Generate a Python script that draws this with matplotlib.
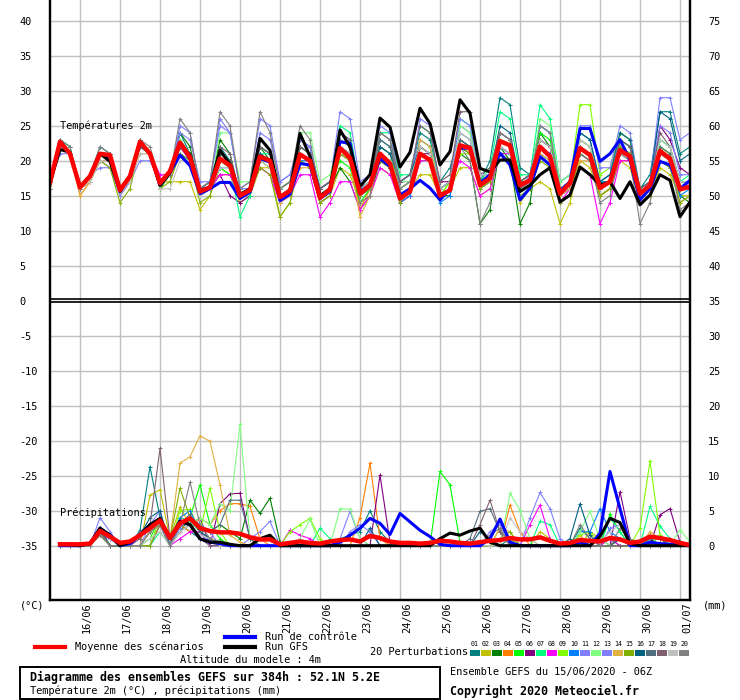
import matplotlib
matplotlib.use('Agg')
import matplotlib.pyplot as plt
import numpy as np
from matplotlib.lines import Line2D
from matplotlib.patches import Rectangle

plt.rcParams['font.family'] = ['DejaVu Sans Mono', 'DejaVu Sans']

# 15/06 06Z -> 01/07 06Z, every 6h
hours = list(range(0, 385, 6))
dates = ['16/06', '17/06', '18/06', '19/06', '20/06', '21/06', '22/06', '23/06',
         '24/06', '25/06', '26/06', '27/06', '28/06', '29/06', '30/06', '01/07']
nan = float('nan')

# --- temperature 2m (C) ---
t_mean = [16.9, 22.7, 21.0, 16.2, 17.8, 21.0, 20.8, 15.8, 17.8, 22.7, 21.0, 16.8, 18.5,
          22.6, 20.5, 15.6, 16.2, 20.3, 19.3, 15.0, 15.8, 20.6, 20.0, 14.8, 15.7,
          20.9, 20.0, 14.7, 15.9, 21.8, 20.4, 15.3, 16.5, 21.0, 19.6, 14.6, 15.6,
          21.0, 20.1, 15.0, 15.8, 22.2, 21.8, 16.5, 17.5, 22.8, 22.2, 16.5, 17.2,
          22.0, 20.6, 15.3, 16.8, 21.8, 20.8, 16.1, 17.0, 21.5, 20.6, 15.3, 16.5,
          21.4, 20.3, 15.9, 16.3]
t_ctrl = [16.9, 22.5, 21.0, 16.2, 17.8, 21.0, 20.5, 15.8, 17.8, 22.5, 21.0, 16.5, 18.3,
          20.8, 19.3, 15.3, 16.0, 16.9, 16.9, 14.6, 15.5, 20.3, 19.8, 14.3, 15.2,
          19.6, 19.4, 14.6, 15.6, 22.7, 22.5, 15.6, 16.5, 20.3, 19.2, 15.1, 16.0,
          17.2, 16.1, 14.4, 16.0, 21.8, 21.8, 16.8, 18.0, 21.1, 19.4, 14.4, 16.1,
          20.6, 19.4, 15.6, 17.0, 24.6, 24.6, 19.9, 21.0, 23.0, 20.1, 14.4, 16.0,
          19.9, 19.4, 16.0, 17.2]
t_gfs = [16.9, 21.6, 21.2, 16.2, 17.8, 21.0, 19.9, 15.6, 17.8, 22.7, 21.0, 16.5, 18.3,
         22.5, 20.8, 15.8, 16.2, 21.5, 19.5, 15.2, 16.0, 23.2, 21.5, 14.8, 15.7,
         23.9, 20.6, 15.0, 16.0, 24.4, 22.0, 16.3, 18.0, 26.1, 24.8, 19.1, 21.2,
         27.5, 25.3, 19.4, 21.3, 28.7, 26.8, 18.9, 18.4, 20.1, 20.1, 15.6, 16.5,
         18.0, 19.0, 14.1, 15.1, 19.1, 18.0, 16.5, 17.0, 14.6, 17.0, 13.7, 15.1,
         18.0, 17.2, 12.0, 14.1]

t_p01 = [17, 23, 22, 16, 18, 22, 21, 16, 18, 23, 21, 17, 18, 24, 21, 16, 17, 22, 20, 15, 16,
         22, 21, 16, 17, 23, 22, 16, 17, 24, 23, 16, 17, 23, 22, 17, 18, 24, 23, 17, 19,
         24, 23, 17, 20, 29, 28, 19, 18, 25, 24, 17, 18, 23, 22, 17, 18, 24, 23, 16, 18,
         27, 27, 21, 22]
t_p02 = [16, 22, 21, 16, 17, 20, 20, 15, 17, 22, 21, 17, 17, 17, 17, 13, 15, 19, 18, 14, 15,
         19, 19, 12, 14, 20, 19, 14, 15, 19, 18, 14, 15, 19, 18, 15, 16, 18, 18, 15, 16,
         19, 19, 15, 16, 21, 20, 14, 16, 17, 16, 11, 14, 20, 19, 15, 16, 20, 19, 14, 15,
         19, 18, 15, 15]
t_p03 = [16, 23, 21, 16, 18, 21, 21, 16, 18, 23, 21, 16, 18, 24, 22, 16, 16, 23, 21, 15, 16,
         22, 20, 14, 16, 22, 21, 15, 16, 19, 17, 13, 15, 20, 19, 14, 15, 22, 21, 15, 15,
         21, 20, 11, 13, 22, 20, 11, 14, 24, 22, 16, 17, 21, 20, 15, 16, 23, 22, 16, 17,
         22, 21, 15, 14]
t_p04 = [17, 22, 21, 15, 17, 21, 20, 16, 17, 22, 21, 17, 18, 22, 21, 16, 17, 18, 18, 15, 16,
         20, 20, 15, 16, 21, 20, 15, 16, 21, 20, 13, 16, 20, 19, 14, 15, 22, 21, 15, 16,
         23, 22, 18, 18, 24, 23, 17, 18, 23, 22, 16, 17, 23, 22, 15, 16, 20, 20, 15, 16,
         22, 21, 16, 17]
t_p05 = [16, 22, 21, 16, 18, 21, 21, 16, 17, 23, 21, 17, 18, 21, 20, 16, 16, 19, 18, 15, 16,
         20, 19, 15, 16, 21, 20, 16, 17, 20, 19, 14, 16, 22, 21, 16, 17, 20, 20, 15, 17,
         22, 21, 17, 18, 21, 21, 17, 18, 24, 23, 16, 17, 22, 21, 17, 17, 23, 22, 15, 16,
         23, 22, 17, 17]
t_p06 = [17, 23, 21, 16, 18, 21, 21, 16, 18, 23, 21, 17, 18, 22, 20, 15, 16, 18, 15, 14, 15,
         21, 20, 15, 16, 20, 19, 14, 15, 22, 21, 15, 16, 20, 19, 15, 16, 21, 21, 17, 17,
         22, 21, 16, 17, 22, 21, 16, 17, 22, 21, 15, 16, 21, 20, 16, 17, 22, 21, 15, 16,
         25, 23, 19, 18]
t_p07 = [16, 23, 22, 16, 18, 21, 21, 16, 18, 23, 21, 17, 18, 23, 21, 15, 16, 20, 19, 12, 15,
         21, 21, 16, 17, 22, 21, 15, 16, 25, 24, 16, 17, 24, 24, 18, 18, 25, 24, 16, 17,
         26, 25, 17, 19, 27, 26, 18, 18, 28, 26, 17, 18, 24, 23, 16, 17, 23, 22, 15, 16,
         23, 22, 17, 18]
t_p08 = [16, 22, 21, 16, 17, 20, 20, 16, 17, 22, 21, 18, 18, 21, 20, 15, 16, 18, 18, 15, 16,
         19, 18, 14, 15, 18, 18, 12, 14, 17, 17, 13, 15, 19, 18, 14, 15, 20, 20, 16, 17,
         20, 19, 15, 16, 21, 21, 16, 17, 22, 21, 14, 16, 19, 18, 11, 14, 20, 20, 15, 16,
         21, 20, 16, 17]
t_p09 = [17, 23, 21, 16, 18, 21, 21, 16, 18, 23, 21, 17, 18, 22, 21, 16, 16, 21, 20, 15, 16,
         20, 20, 16, 17, 22, 21, 15, 16, 23, 22, 16, 17, 22, 21, 16, 17, 23, 22, 15, 17,
         21, 21, 17, 18, 24, 23, 17, 18, 21, 20, 15, 17, 28, 28, 18, 19, 24, 23, 16, 17,
         22, 21, 16, 17]
t_p10 = [17, 22, 21, 16, 18, 21, 20, 16, 17, 22, 21, 17, 18, 21, 20, 15, 16, 19, 19, 15, 16,
         21, 20, 15, 15, 20, 20, 14, 15, 21, 20, 15, 16, 21, 20, 14, 15, 21, 20, 14, 15,
         23, 22, 16, 17, 22, 21, 16, 17, 22, 21, 15, 16, 22, 21, 17, 17, 22, 21, 15, 16,
         20, 19, 15, 16]
t_p11 = [17, 22, 21, 16, 18, 20, 19, 16, 17, 22, 21, 17, 18, 25, 24, 16, 17, 26, 24, 16, 17,
         26, 25, 17, 18, 23, 22, 16, 17, 27, 26, 17, 18, 25, 24, 17, 17, 26, 25, 16, 17,
         25, 24, 17, 18, 24, 23, 16, 18, 25, 24, 17, 18, 25, 25, 19, 19, 25, 24, 16, 17,
         29, 29, 23, 24]
t_p12 = [17, 23, 21, 16, 18, 21, 21, 16, 17, 23, 21, 17, 18, 23, 21, 16, 16, 24, 24, 17, 17,
         22, 21, 16, 17, 24, 24, 17, 18, 23, 22, 16, 17, 24, 23, 17, 17, 23, 22, 16, 17,
         25, 24, 18, 18, 23, 22, 17, 17, 26, 25, 17, 18, 23, 22, 17, 18, 24, 23, 16, 17,
         22, 21, 16, 17]
t_p13 = [17, 21, 21, 16, 18, 19, 19, 15, 17, 20, 20, 17, 18, 24, 23, 17, 17, 25, 24, 16, 16,
         24, 23, 17, 18, 23, 22, 16, 17, 22, 21, 16, 17, 22, 21, 17, 18, 23, 22, 16, 17,
         26, 25, 18, 18, 22, 21, 17, 17, 21, 20, 15, 16, 24, 23, 17, 18, 23, 22, 16, 17,
         25, 24, 18, 18]
t_p14 = [16, 22, 21, 15, 17, 20, 20, 16, 17, 21, 21, 17, 17, 22, 21, 15, 16, 20, 19, 15, 16,
         20, 19, 14, 15, 19, 19, 14, 15, 21, 20, 12, 15, 21, 20, 15, 16, 23, 22, 16, 17,
         23, 22, 16, 17, 23, 22, 16, 17, 21, 20, 15, 16, 20, 20, 15, 16, 22, 21, 14, 15,
         21, 20, 14, 15]
t_p15 = [16, 22, 21, 16, 17, 20, 19, 14, 16, 22, 21, 16, 17, 21, 20, 14, 15, 20, 19, 15, 16,
         19, 18, 12, 14, 20, 19, 14, 15, 21, 20, 15, 16, 20, 19, 14, 16, 21, 20, 15, 16,
         22, 21, 16, 17, 21, 20, 15, 16, 20, 19, 14, 15, 21, 20, 15, 16, 22, 21, 14, 15,
         20, 19, 14, 15]
t_p16 = [17, 23, 21, 16, 18, 21, 21, 16, 18, 23, 21, 17, 18, 22, 21, 16, 17, 21, 20, 15, 16,
         21, 20, 15, 16, 22, 21, 16, 17, 22, 21, 16, 17, 22, 21, 17, 18, 22, 21, 16, 17,
         23, 22, 17, 18, 25, 24, 17, 18, 23, 22, 16, 17, 24, 23, 17, 18, 24, 23, 16, 17,
         27, 26, 20, 21]
t_p17 = [17, 22, 21, 16, 18, 21, 21, 16, 18, 22, 21, 17, 18, 22, 21, 16, 16, 21, 20, 15, 16,
         22, 21, 15, 16, 21, 20, 15, 16, 23, 22, 16, 17, 23, 22, 16, 17, 22, 21, 15, 16,
         23, 22, 17, 18, 22, 21, 16, 17, 23, 22, 16, 17, 22, 21, 16, 17, 23, 22, 15, 16,
         22, 21, 16, 16]
t_p18 = [17, 23, 21, 16, 18, 21, 21, 16, 18, 23, 21, 17, 18, 22, 21, 16, 16, 22, 21, 15, 16,
         22, 21, 16, 17, 22, 21, 16, 17, 24, 23, 16, 17, 24, 23, 17, 18, 25, 24, 17, 18,
         27, 27, 18, 19, 24, 23, 17, 18, 23, 22, 16, 17, 22, 21, 16, 17, 23, 22, 16, 17,
         24, 22, 17, 17]
t_p19 = [16, 22, 21, 16, 17, 20, 20, 16, 17, 21, 21, 16, 16, 20, 20, 15, 16, 19, 19, 15, 16,
         20, 19, 15, 16, 21, 20, 15, 16, 22, 21, 16, 17, 21, 20, 16, 17, 22, 21, 16, 17,
         24, 23, 18, 18, 22, 21, 16, 17, 23, 22, 16, 17, 23, 22, 16, 17, 21, 20, 15, 16,
         23, 22, 17, 17]
t_p20 = [16, 23, 22, 16, 18, 22, 21, 16, 18, 23, 22, 17, 18, 26, 24, 16, 17, 27, 25, 16, 17,
         27, 24, 16, 17, 25, 23, 15, 16, 23, 22, 14, 15, 24, 23, 16, 17, 21, 20, 15, 16,
         22, 20, 11, 14, 24, 23, 16, 17, 25, 24, 16, 17, 21, 20, 14, 15, 21, 20, 11, 14,
         21, 20, 13, 14]

# --- precipitation (mm per 6h) ---
p_mean = [nan, 0.2, 0.2, 0.2, 0.3, 2.1, 1.3, 0.4, 0.6, 1.5, 2.5, 3.6, 1.1,
          3.2, 3.9, 2.5, 2.1, 1.9, 1.9, 1.7, 1.2, 0.9, 0.9, 0.2, 0.4,
          0.6, 0.4, 0.3, 0.6, 0.8, 0.9, 0.6, 1.4, 1.1, 0.6, 0.4, 0.4,
          0.3, 0.4, 0.7, 0.6, 0.4, 0.3, 0.5, 0.7, 0.8, 1.1, 0.9, 0.9,
          1.2, 0.7, 0.3, 0.4, 0.8, 0.7, 0.6, 1.1, 0.9, 0.4, 0.6, 1.3,
          1.1, 0.8, 0.4, 0.1]
p_ctrl = [nan, 0, 0, 0, 0.3, 2.5, 1.5, 0, 0.3, 1.5, 3, 3.5, 1, 3.5, 3, 1, 0.5,
          0.3, 0, 0, 0, 0, 0, 0, 0, 0, 0, 0, 0, 0.5, 1.5, 2.5, 3.9,
          3.2, 1.6, 4.6, 3.4, 2.2, 1.3, 0.2, 0, 0, 0, 0, 1, 3.8, 0.5, 0, 0,
          0, 0, 0, 0, 0.5, 0, 1.8, 10.6, 5.3, 0, 0, 0.5, 0.3, 0.2, 0.1, 0]
p_gfs = [nan, 0.2, 0.1, 0, 0.3, 2.5, 1.5, 0, 0.5, 1.5, 3, 3.9, 1, 3.5, 3, 1, 0.5,
         0.5, 0.2, 0, 0, 1, 1.5, 0, 0, 0, 0, 0, 0, 0, 0, 0, 0,
         0, 0, 0, 0, 0, 0, 1, 1.8, 1.5, 2.1, 2.5, 0.5, 0, 0, 0, 0,
         0, 0, 0, 0, 0, 0, 1.3, 3.9, 3.3, 0.3, 0, 0, 0, 0, 0, 0]

p_p01 = [nan, 0, 0, 0, 0, 2, 1, 0, 0, 2.2, 11.3, 4, 1, 3, 2, 1, 0.5, 0.3, 0, 0, 0,
         0, 0, 0, 0, 0, 0, 0, 0, 1, 1.5, 2, 5, 2, 0.5, 0, 0, 0, 0, 0, 0, 0, 0, 0, 0,
         0, 1, 0, 0, 0, 0, 0, 0, 2.5, 1, 0, 0, 1, 0, 0, 1, 0, 0, 0, 0]
p_p02 = [nan, 0, 0, 0, 0, 2, 1.5, 0, 0, 0, 7.2, 8, 1, 5.5, 3, 1, 0.5, 0, 0, 0, 0,
         0, 0, 0, 0.5, 0, 0, 0, 0, 0, 0, 0, 0, 0, 0, 0, 0, 0, 0, 0, 0, 0, 0, 0, 0,
         2.5, 1, 0, 0, 2, 1, 0, 0, 0, 2, 1, 0, 0, 0, 0, 0.5, 0, 0, 0, 0]
p_p03 = [nan, 0, 0, 0, 0, 1.5, 0, 0, 0, 0, 2, 3, 0, 2, 4, 3, 2, 3, 2, 1, 6.5,
         4.6, 6.8, 0.5, 0, 0, 0, 0, 0, 0, 0, 0, 0, 0, 0, 0, 0, 0, 0, 0, 0, 0, 0, 0, 0,
         0, 0, 0, 0, 0, 0, 0, 0, 0, 0, 0, 1, 0, 0, 0, 1, 0, 0, 0, 0]
p_p04 = [nan, 0, 0, 0, 0, 2, 0, 0, 0, 0, 2, 3, 0, 3, 2, 4, 3, 5, 6, 6, 5.6,
         1, 0, 0, 0, 0, 0, 0, 0, 0, 0, 4, 11.8, 1, 0, 0, 0, 0, 0, 0, 0, 0, 0, 0, 0,
         0, 5.8, 2, 0, 0, 0, 0, 0, 1.5, 0, 0, 0, 1, 0, 0, 0, 0, 0, 0, 0]
p_p05 = [nan, 0, 0, 0, 0, 1.5, 0, 0, 0, 0, 1, 4, 0, 3, 4, 8.7, 3, 1, 0, 0, 0,
         0, 0, 0, 0, 0, 0, 0, 0, 0, 0, 0, 0, 0, 0, 0, 0, 0, 0, 10.6, 8.7, 0.5, 0, 0, 0,
         0, 0, 0, 0, 0, 0, 0, 0, 0, 0, 0, 4.5, 2, 0, 0, 0, 1.5, 0, 0, 0]
p_p06 = [nan, 0, 0, 0, 0, 2, 0, 0, 0, 0, 0, 3, 0, 2, 3, 4, 0, 6, 7.4, 7.5, 1,
         0, 0, 0, 0, 0, 0, 0, 0, 0, 0, 0, 0, 10.1, 0.5, 0, 0, 0, 0, 0, 0, 0, 0, 0, 0,
         0, 0, 0, 0, 0, 0, 0, 0, 0, 0, 0, 0, 7.7, 1, 0, 0, 4.4, 5.3, 0.5, 0]
p_p07 = [nan, 0, 0, 0, 0, 2.5, 0, 0, 0, 0, 0, 2, 0, 4, 3.5, 2, 0, 0, 0, 0, 0,
         0, 0, 0, 0, 0, 0, 2.5, 1, 0, 0, 0, 0, 0, 0, 0, 0, 0, 0, 0, 0, 0, 0, 0, 0,
         0, 0, 0, 0, 3.5, 3, 0, 0, 0, 0, 0, 4, 2, 0, 0, 5.6, 2.8, 1, 0, 0]
p_p08 = [nan, 0, 0, 0, 0, 1.5, 1, 0, 0, 0, 0, 3, 0, 1, 2, 2, 0, 0, 0, 0, 0,
         0, 0, 0, 2.2, 1.5, 1, 0, 0, 0, 0, 0, 0, 0, 0, 0, 0, 0, 0, 0, 0, 0, 0, 0, 0,
         0, 0, 0, 3, 5.8, 1, 0, 0, 0, 0, 0, 1, 0, 0, 0, 0, 0, 0, 0, 0]
p_p09 = [nan, 0, 0, 0, 0, 2, 0, 0, 0, 0, 0, 4, 0, 5, 5.2, 2, 8.2, 2, 0, 0, 0,
         0, 0, 0, 2, 3, 3.9, 1, 0, 0, 0, 0, 0, 0, 0, 0, 0, 0, 0, 0, 0, 0, 0, 0, 0,
         0, 0, 0, 0, 0, 0, 0, 0, 1.5, 2, 0, 0, 0, 0, 2.5, 12.1, 1.5, 0, 0, 0]
p_p10 = [nan, 0, 0, 0, 0, 2, 1, 0, 0, 2, 3, 4, 0, 4, 5, 2, 1, 0, 0, 0, 0,
         0, 0, 0, 0, 0, 0, 0, 0, 0, 0, 0, 0, 0, 0, 0, 0, 0, 0, 0, 0, 0, 0, 0, 1,
         0, 0, 0, 0, 0, 0, 0, 0, 2, 2, 5.3, 2, 1, 0, 0, 0, 0, 0, 0, 0]
p_p11 = [nan, 0, 0, 0, 0, 4, 2, 0, 0, 0, 3, 5, 0, 3, 3, 1, 1, 0, 0, 0, 1,
         2, 3.5, 0, 0, 0, 0, 0, 0, 1, 4.9, 1, 0, 0, 0, 0, 0, 0, 0, 0, 0, 0, 0, 0, 0,
         0, 0, 0, 4, 7.6, 5.3, 1, 0, 0, 0, 1, 0, 0, 0, 0, 0, 0, 0, 0, 0]
p_p12 = [nan, 0, 0, 0, 0, 2, 0, 0, 0, 0, 1, 2, 0, 2, 3, 4, 3, 6, 5, 17.4, 1,
         0, 0, 0, 0, 1, 3.8, 0, 0, 5.3, 5.2, 1, 0, 0, 0, 0, 0, 0, 0, 0, 0, 0, 0, 0, 0,
         0, 7.5, 5.1, 1, 0, 0, 0, 0, 2, 4.9, 1, 0, 0, 0, 0, 0, 0, 0, 2.3, 0.5]
p_p13 = [nan, 0, 0, 0, 0, 2.5, 1.5, 0, 0, 0, 2, 3, 0, 2.5, 4, 3, 2, 0, 0, 0, 0,
         0, 0, 0, 0, 0, 0, 0, 0, 0, 2, 3, 2, 0, 0, 0, 0, 0, 0, 0, 0, 0, 0, 0, 2,
         3, 0, 0, 0, 0, 0, 0, 0, 1, 0, 0, 2.5, 3, 0, 0, 0, 0, 0, 0, 0]
p_p14 = [nan, 0, 0, 0, 0, 1.5, 0, 0, 0, 0, 2, 3, 1, 11.8, 12.7, 15.7, 14.9, 8.7, 1.5, 0.5, 0,
         0, 0, 0, 0, 0, 0, 0, 0, 0, 0, 0, 0, 0, 0, 0, 0, 0, 0, 0, 0, 0, 0, 0, 0,
         2.5, 2, 0, 0, 0, 0, 0, 0, 1, 0, 0, 0, 0, 0, 0, 2, 1, 0, 0, 0]
p_p15 = [nan, 0, 0, 0, 0, 2, 0, 0, 0, 0, 0, 3, 1, 8.2, 4, 2, 1, 0.5, 0, 0, 0,
         0, 0, 0, 0, 0, 0, 0, 0, 0, 0, 0, 0, 0, 0, 0, 0, 0, 0, 0, 0, 0, 0, 0, 0,
         1, 2, 0, 0, 0, 0, 0, 0, 0, 0, 0, 0, 0, 0, 0, 1.5, 1, 0, 0, 0]
p_p16 = [nan, 0, 0, 0, 0, 2.5, 0, 0, 0, 1.5, 4, 5, 0, 3, 4, 2, 1, 0, 0, 0, 0,
         0, 0, 0, 0, 0, 0, 0, 0, 0, 0, 0, 2.5, 0, 0, 0, 0, 0, 0, 0, 0, 0, 0, 2, 1,
         0, 0, 0, 0, 0, 0, 0, 1, 6, 1.5, 0, 0, 1, 0, 0, 0, 0, 0, 0, 0]
p_p17 = [nan, 0, 0, 0, 0, 2, 0, 0, 0, 2, 3, 4, 0, 3, 4.5, 2, 2, 3, 6.5, 6.5, 1,
         0, 0, 0, 0, 0, 0, 0, 0, 0, 0, 0, 0, 0, 0, 0, 0, 0, 0, 0, 0, 0, 1, 4.9, 5.3,
         2, 0, 0, 0, 0, 0, 0, 0, 0, 0, 0, 0, 0, 0, 0, 1, 1, 0, 0, 0]
p_p18 = [nan, 0, 0, 0, 0, 2, 0, 0, 0, 1, 3, 13.9, 1, 3, 3, 1, 0, 0, 0, 0, 0,
         0, 0, 0, 0, 0, 0, 0, 0, 0, 0, 0, 0, 0, 0, 0, 0, 0, 0, 0, 0, 0, 0, 3, 6.5,
         2, 0, 0, 0, 0, 0, 0, 0, 0, 0, 0, 0, 0, 0, 0, 0, 0, 1, 0.5, 0]
p_p19 = [nan, 0, 0, 0, 0, 2, 1, 0, 0, 0, 1, 2, 0, 2, 3, 1.5, 1, 0, 0, 0, 0,
         0, 0, 0, 0.5, 1, 0, 0, 0, 0, 0, 0, 0, 0, 0, 0, 0, 0, 0, 0, 0, 0, 0, 0, 0,
         0, 4, 2, 1, 0, 0, 0, 0, 0, 1, 0.5, 2, 3, 0, 0, 0, 0, 0, 0, 0]
p_p20 = [nan, 0, 0, 0, 0, 1.5, 0, 0, 0, 0, 2, 3, 0, 3, 9.1, 3, 1, 0.5, 0, 0, 0,
         0, 0, 0, 0, 0, 0, 0, 0, 0, 0, 0, 0, 0, 0, 0, 0, 0, 0, 0, 0, 0, 0, 0, 1.5,
         2.5, 0, 0, 0, 0, 0, 0, 0, 3, 1, 0, 0, 2.5, 1, 0, 0, 0, 0, 0, 0]

pert_temps = [t_p01, t_p02, t_p03, t_p04, t_p05, t_p06, t_p07, t_p08, t_p09, t_p10,
              t_p11, t_p12, t_p13, t_p14, t_p15, t_p16, t_p17, t_p18, t_p19, t_p20]
pert_precs = [p_p01, p_p02, p_p03, p_p04, p_p05, p_p06, p_p07, p_p08, p_p09, p_p10,
              p_p11, p_p12, p_p13, p_p14, p_p15, p_p16, p_p17, p_p18, p_p19, p_p20]
pert_colors = ['#008080', '#c0c000', '#008000', '#ff8000', '#00ff00', '#800080', '#00ff80',
               '#ff00ff', '#80ff00', '#0080ff', '#8080ff', '#80ff80', '#8080ff', '#e0b040',
               '#80b000', '#006080', '#507080', '#806070', '#c0c0c0', '#808080']

for s in pert_temps + pert_precs + [t_mean, t_ctrl, t_gfs, p_mean, p_ctrl, p_gfs]:
    assert len(s) == len(hours), len(s)

W, H = 740, 700
fig = plt.figure(figsize=(W / 100, H / 100), dpi=100)
ax = fig.add_axes([50 / W, 1 - 600 / H, 640 / W, 600 / H])


def px(x, y):
    return x / W, 1 - y / H


OFF = 35  # precipitation drawn on the lower scale: mm - 35

for k in range(20):
    c = pert_colors[k]
    ax.plot(hours, pert_temps[k], color=c, lw=0.8, marker='+', ms=3, mew=0.7, zorder=3)
    ax.plot(hours, np.array(pert_precs[k]) - OFF, color=c, lw=0.8, marker='+', ms=3,
            mew=0.7, zorder=3)

ax.plot(hours, t_ctrl, color='#0000ff', lw=2.2, zorder=4)
ax.plot(hours, np.array(p_ctrl) - OFF, color='#0000ff', lw=2.2, zorder=4)
ax.plot(hours, t_gfs, color='black', lw=2.2, zorder=4)
ax.plot(hours, np.array(p_gfs) - OFF, color='black', lw=2.2, zorder=4)
ax.plot(hours, t_mean, color='#ff0000', lw=3.2, zorder=5)
ax.plot(hours, np.array(p_mean) - OFF, color='#ff0000', lw=3.2, zorder=5)

ax.set_xlim(0, 384)
ax.set_ylim(-42.76, 42.96)

yt = list(range(-35, 45, 5))
ax.set_yticks(yt)
ax.set_yticklabels([str(v) for v in yt], ha='left', fontsize=7.4)
ax.tick_params(axis='y', length=0, pad=22)
day_ticks = [18 + 24 * d for d in range(len(dates))]
ax.set_xticks(day_ticks)
ax.set_xticklabels([])
ax.tick_params(axis='x', length=0)
ax.grid(True, color='#c0c0c0', lw=1.0)
ax.set_axisbelow(True)

ax2 = ax.twinx()
ax2.set_ylim(ax.get_ylim())
ax2.set_yticks(yt)
ax2.set_yticklabels([str(v + OFF) for v in yt], fontsize=7.4)
ax2.tick_params(axis='y', length=0, pad=13)

for a in (ax, ax2):
    a.spines['top'].set_visible(False)
    for s in ('left', 'right', 'bottom'):
        a.spines[s].set_linewidth(1.6)

ax.axhline(0.28, color='black', lw=1.2, zorder=6)
ax.axhline(-0.2, color='black', lw=1.2, zorder=6)

ax.text(6, 25, 'Températures 2m', fontsize=7.4, va='center', zorder=7)
ax.text(6, -30.3, 'Précipitations', fontsize=7.4, va='center', zorder=7)

# date labels
for h, d in zip(day_ticks, dates):
    x = 50 + h * 10 / 6 + 7
    fig.text(*px(x, 602), d, rotation=90, ha='center', va='top', fontsize=7.4)

fig.text(*px(20, 606), '(°C)', fontsize=7.4, va='center')
fig.text(*px(703, 606), '(mm)', fontsize=7.4, va='center')

# legend block
fig.add_artist(Line2D([35 / W, 65 / W], [1 - 647 / H] * 2, color='#ff0000', lw=3))
fig.text(*px(75, 647), 'Moyenne des scénarios', fontsize=7.4, va='center')
fig.add_artist(Line2D([225 / W, 255 / W], [1 - 637 / H] * 2, color='#0000ff', lw=3))
fig.text(*px(265, 637), 'Run de contrôle', fontsize=7.4, va='center')
fig.add_artist(Line2D([225 / W, 255 / W], [1 - 647 / H] * 2, color='black', lw=3))
fig.text(*px(265, 647), 'Run GFS', fontsize=7.4, va='center')
fig.text(*px(180, 660), 'Altitude du modele : 4m', fontsize=7.4, va='center')

fig.text(*px(370, 652), '20 Perturbations', fontsize=7.4, va='center')
for k, c in enumerate(pert_colors):
    x0 = 470 + 11 * k
    fig.add_artist(Rectangle((x0 / W, 1 - 656 / H), 10 / W, 6 / H,
                             transform=fig.transFigure, color=c, lw=0))
    fig.text(*px(x0 + 5, 643.5), f'{k + 1:02d}', fontsize=4.8, ha='center', va='center')

fig.add_artist(Rectangle((20 / W, 1 - 699 / H), 420 / W, 32 / H, transform=fig.transFigure,
                         fill=False, ec='black', lw=1.4))
fig.text(*px(30, 677), 'Diagramme des ensembles GEFS sur 384h : 52.1N 5.2E',
         fontsize=8.4, fontweight='bold', va='center')
fig.text(*px(30, 691), 'Température 2m (°C) , précipitations (mm)', fontsize=7.4, va='center')
fig.text(*px(450, 672), 'Ensemble GEFS du 15/06/2020 - 06Z', fontsize=7.4, va='center')
fig.text(*px(450, 691), 'Copyright 2020 Meteociel.fr', fontsize=8.4, fontweight='bold',
         va='center')

fig.savefig('out.png', dpi=100, facecolor='white')
